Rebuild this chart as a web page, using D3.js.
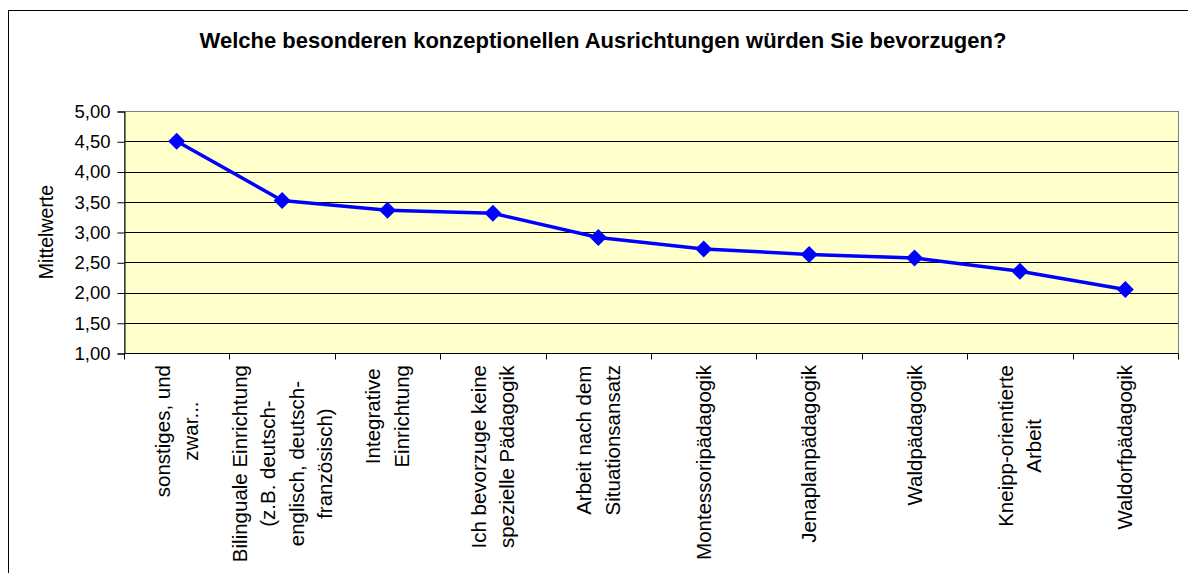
<!DOCTYPE html>
<html>
<head>
<meta charset="utf-8">
<script src="https://cdn.jsdelivr.net/npm/d3@7"></script>
<style>
  body { margin: 0; background: #fff; }
  svg { display: block; font-family: "Liberation Sans", Arial, sans-serif; }
</style>
</head>
<body>
<script>
// chart data
const title = "Welche besonderen konzeptionellen Ausrichtungen würden Sie bevorzugen?";
const yLabel = "Mittelwerte";
const categories = [
  ["sonstiges, und", "zwar..."],
  ["Bilinguale Einrichtung", "(z.B. deutsch-", "englisch, deutsch-", "französisch)"],
  ["Integrative", "Einrichtung"],
  ["Ich bevorzuge keine", "spezielle Pädagogik"],
  ["Arbeit nach dem", "Situationsansatz"],
  ["Montessoripädagogik"],
  ["Jenaplanpädagogik"],
  ["Waldpädagogik"],
  ["Kneipp-orientierte", "Arbeit"],
  ["Waldorfpädagogik"]
];
const values = [4.50, 3.52, 3.36, 3.31, 2.91, 2.72, 2.63, 2.57, 2.35, 2.05];
const yTicks = [1.0, 1.5, 2.0, 2.5, 3.0, 3.5, 4.0, 4.5, 5.0];

const W = 1188, H = 573;
const margin = {top: 111, right: 10, bottom: 220, left: 124};
const plotW = 1178 - margin.left, plotH = 353 - margin.top;

const svg = d3.select("body").append("svg")
  .attr("width", W)
  .attr("height", H);

// outer chart frame (runs off the right and bottom edge)
svg.append("rect")
  .attr("x", 8.5).attr("y", 10.5)
  .attr("width", 1200).attr("height", 600)
  .attr("fill", "#fff")
  .attr("stroke", "#000");

svg.append("text")
  .attr("x", 603).attr("y", 48)
  .attr("text-anchor", "middle")
  .attr("font-size", 22)
  .attr("font-weight", "bold")
  .text(title);

const g = svg.append("g")
  .attr("transform", "translate(" + margin.left + "," + margin.top + ")");

const x = d3.scaleBand()
  .domain(d3.range(categories.length))
  .range([0, plotW]);

const y = d3.scaleLinear()
  .domain([1, 5])
  .range([plotH, 0]);

// plot background
g.append("rect")
  .attr("width", plotW).attr("height", plotH)
  .attr("fill", "#FFFFCC");

// gridlines
g.append("g")
  .selectAll("line")
  .data(yTicks.slice(1, -1))
  .join("line")
  .attr("x1", 0).attr("x2", plotW)
  .attr("y1", d => Math.round(y(d)) + 0.5)
  .attr("y2", d => Math.round(y(d)) + 0.5)
  .attr("stroke", "#000");

// plot border
g.append("rect")
  .attr("x", 0.5).attr("y", 0.5)
  .attr("width", plotW).attr("height", plotH)
  .attr("fill", "none")
  .attr("stroke", "#808080");

// y axis
const yAxis = g.append("g")
  .attr("transform", "translate(0.5,0.5)")
  .call(d3.axisLeft(y)
    .tickValues(yTicks)
    .tickSize(7)
    .tickPadding(7)
    .tickFormat(d => d.toFixed(2).replace(".", ",")));
yAxis.select(".domain").attr("stroke", "#000");
yAxis.selectAll("text")
  .attr("font-size", 18.5)
  .attr("font-family", "Liberation Sans, Arial, sans-serif")
  .attr("fill", "#000");

// x axis: ticks on band boundaries
const xAxis = g.append("g")
  .attr("transform", "translate(0," + (plotH + 0.5) + ")");
xAxis.append("line")
  .attr("x1", 0).attr("x2", plotW)
  .attr("stroke", "#000");
xAxis.selectAll(".tick")
  .data(d3.range(categories.length + 1))
  .join("line")
  .attr("class", "tick")
  .attr("x1", d => Math.round(d < categories.length ? x(d) : plotW) + 0.5)
  .attr("x2", d => Math.round(d < categories.length ? x(d) : plotW) + 0.5)
  .attr("y1", 0).attr("y2", 6)
  .attr("stroke", "#000");

// category labels, rotated, top-aligned below axis, lines centred
const lineGap = 28.5;
const labels = svg.append("g")
  .selectAll("g")
  .data(categories)
  .join("g")
  .attr("transform", (d, i) => "translate(" + (margin.left + x(i) + x.bandwidth() / 2) + ",365) rotate(-90)");

labels.each(function(lines) {
  const lg = d3.select(this);
  const texts = lg.selectAll("text")
    .data(lines)
    .join("text")
    .attr("font-size", 20.5)
    .attr("text-anchor", "middle")
    .attr("dy", "0.35em")
    .attr("y", (d, j) => (j - (lines.length - 1) / 2) * lineGap)
    .text(d => d);
  const maxLen = d3.max(texts.nodes(), n => n.getComputedTextLength());
  texts.attr("x", -maxLen / 2);
});

// y axis title
svg.append("text")
  .attr("transform", "translate(46," + (margin.top + plotH / 2) + ") rotate(-90)")
  .attr("text-anchor", "middle")
  .attr("dy", "0.35em")
  .attr("font-size", 19.5)
  .text(yLabel);

// line
const line = d3.line()
  .x((d, i) => x(i) + x.bandwidth() / 2)
  .y(d => y(d));

g.append("path")
  .datum(values)
  .attr("d", line)
  .attr("fill", "none")
  .attr("stroke", "#0000FF")
  .attr("stroke-width", 3.5)
  .attr("stroke-linejoin", "round");

// diamond markers
const r = 8.5;
g.append("g")
  .selectAll("path")
  .data(values)
  .join("path")
  .attr("transform", (d, i) => "translate(" + (x(i) + x.bandwidth() / 2) + "," + y(d) + ")")
  .attr("d", "M0," + (-r) + "L" + r + ",0L0," + r + "L" + (-r) + ",0Z")
  .attr("fill", "#0000FF");
</script>
</body>
</html>
